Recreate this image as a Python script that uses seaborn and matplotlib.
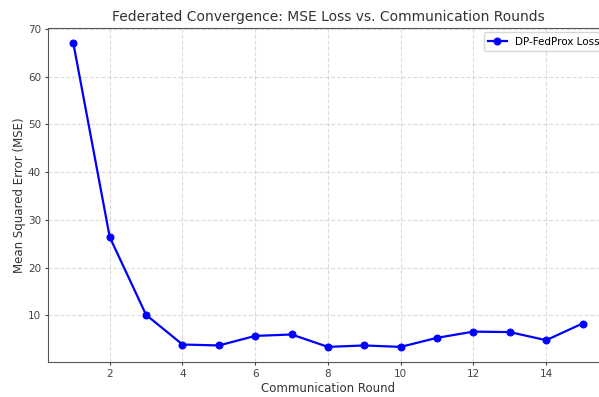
import matplotlib
matplotlib.use("Agg")
import matplotlib.pyplot as plt
import seaborn as sns
import pandas as pd

# MSE loss per communication round
rounds = list(range(1, 16))
mse_loss = [67.0, 26.4, 10.1, 3.9, 3.7, 5.7, 6.0, 3.4, 3.7, 3.4, 5.3, 6.6, 6.5, 4.8, 8.3]
series_label = "DP-FedProx Loss"

df = pd.DataFrame({"round": rounds, "mse": mse_loss, "series": series_label})

fig = plt.figure(figsize=(5.99, 3.97), dpi=100)
ax = fig.add_axes([0.080, 0.088, 0.935, 0.841])

sns.lineplot(data=df, x="round", y="mse", hue="series", palette=["blue"],
             marker="o", markersize=5, markeredgecolor="blue", linewidth=1.6,
             ax=ax)

ax.set_title("Federated Convergence: MSE Loss vs. Communication Rounds",
             fontsize=10, color="#333333", pad=5)
ax.set_xlabel("Communication Round", fontsize=8.5, color="#333333", labelpad=2)
ax.set_ylabel("Mean Squared Error (MSE)", fontsize=8.5, color="#333333", labelpad=1)
ax.tick_params(labelsize=7.5, colors="#444444", length=2.5, width=0.8, pad=2.5)
ax.grid(True, linestyle="--", color="#bbbbbb", alpha=0.5, linewidth=0.8)
for s in ax.spines.values():
    s.set_color("#555555")
ax.spines["right"].set_visible(False)

leg = ax.legend(loc="upper right", fontsize=7.5, handlelength=1.8,
                borderaxespad=0.4, framealpha=0.8)
leg.set_title(None)

fig.savefig("out.png", dpi=100)
